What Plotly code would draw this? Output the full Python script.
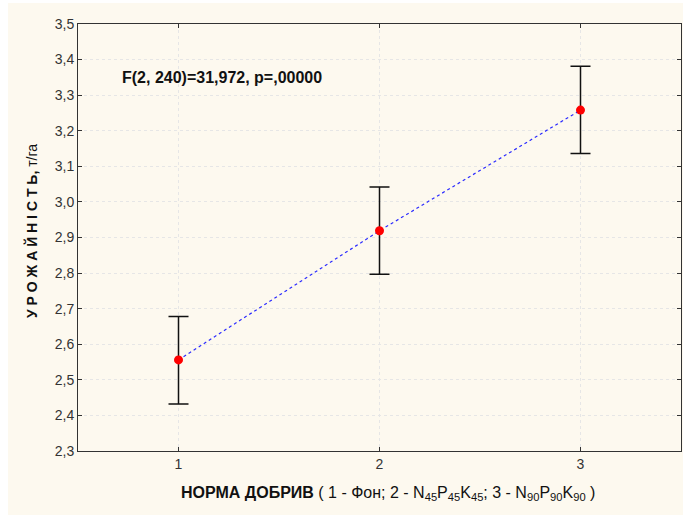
import plotly.graph_objects as go

# Mean yield by fertiliser rate with 95% confidence intervals
doses = [1, 2, 3]
mean_yield = [2.556, 2.919, 3.258]
ci_upper = [0.122, 0.123, 0.123]
ci_lower = [0.124, 0.122, 0.122]
y_ticks = [2.3, 2.4, 2.5, 2.6, 2.7, 2.8, 2.9, 3.0, 3.1, 3.2, 3.3, 3.4, 3.5]

W, H = 683, 516
L, R, T, B = 78, 2, 24, 65

fig = go.Figure()

# dotted trend line between means
fig.add_trace(go.Scatter(
    x=doses, y=mean_yield, mode="lines",
    line=dict(color="#2b2bff", width=1.2, dash="dot"),
    hoverinfo="skip", showlegend=False,
))

# means with confidence whiskers
fig.add_trace(go.Scatter(
    x=doses, y=mean_yield, mode="markers",
    marker=dict(color="#ff0000", size=9),
    error_y=dict(type="data", symmetric=False, array=ci_upper, arrayminus=ci_lower,
                 color="#111111", thickness=1.5, width=10),
    showlegend=False,
))

frame = dict(showline=True, linecolor="#333333", linewidth=1, mirror="ticks",
             ticks="inside", ticklen=4, tickcolor="#333333",
             showgrid=True, gridcolor="#e6e6e6", griddash="dot", gridwidth=1,
             zeroline=False,
             tickfont=dict(family="Liberation Sans, Arial", size=14, color="#333333"))

fig.update_xaxes(range=[0.5, 3.5], tickvals=doses, ticktext=[str(d) for d in doses], **frame)
fig.update_yaxes(range=[2.3, 3.5], tickvals=y_ticks, tickformat=".1f", **frame)

pw = W - L - R
ph = H - T - B

fig.add_shape(type="rect", xref="paper", yref="paper",
              x0=(8 - L) / pw, x1=(W - L) / pw,
              y0=(T + ph - 515) / ph, y1=(T + ph - 3) / ph,
              fillcolor="#fdf9ef", line=dict(width=0), layer="below")

fig.add_annotation(
    text="<b>F(2, 240)=31,972, p=,00000</b>",
    xref="paper", yref="paper", x=(120 - L) / pw, y=(T + ph - 77) / ph,
    xanchor="left", yanchor="middle", showarrow=False,
    font=dict(family="Liberation Sans, Arial", size=16, color="#111111"),
)

fig.add_annotation(
    text="<b>НОРМА ДОБРИВ</b> ( 1 - Фон; 2 - N<sub>45</sub>P<sub>45</sub>K<sub>45</sub>; "
         "3 - N<sub>90</sub>P<sub>90</sub>K<sub>90</sub> )",
    xref="paper", yref="paper", x=(388 - L) / pw, y=(T + ph - 493) / ph,
    xanchor="center", yanchor="middle", showarrow=False,
    font=dict(family="Liberation Sans, Arial", size=16, color="#111111"),
)

sp = "\u00a0"
y_title = sp.join("УРОЖАЙНІСТЬ") + ","
fig.add_annotation(
    text=f"<b>{y_title}</b>{sp}т/га",
    xref="paper", yref="paper", x=(31 - L) / pw, y=(T + ph - 231) / ph,
    xanchor="center", yanchor="middle", textangle=-90, showarrow=False,
    font=dict(family="Liberation Sans, Arial", size=14, color="#111111"),
)

fig.update_layout(
    width=W, height=H,
    margin=dict(l=L, r=R, t=T, b=B),
    paper_bgcolor="#ffffff", plot_bgcolor="#ffffff",
    separators=", ",
    showlegend=False,
)

fig.write_html("out.html")
